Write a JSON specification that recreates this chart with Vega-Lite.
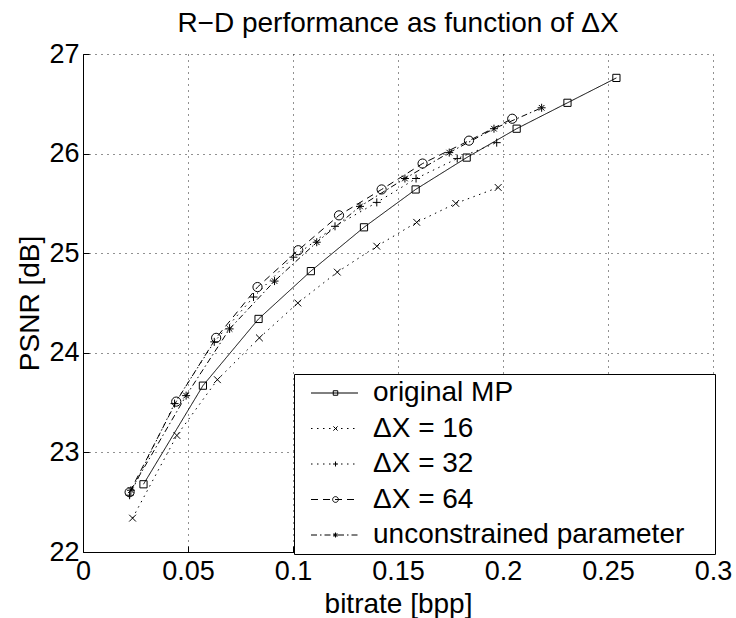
{
  "$schema": "https://vega.github.io/schema/vega-lite/v6.json",
  "width": 630,
  "height": 498,
  "autosize": {"type": "none"},
  "padding": {"left": 83, "top": 54, "right": 23, "bottom": 66},
  "background": "white",
  "title": {
    "text": "R−D performance as function of ΔX",
    "font": "Liberation Sans",
    "fontSize": 28,
    "fontWeight": "normal",
    "color": "black",
    "offset": 2
  },
  "config": {
    "view": {"stroke": null},
    "axis": {
      "labelFont": "Liberation Sans",
      "labelFontSize": 27,
      "labelColor": "black",
      "titleFont": "Liberation Sans",
      "titleFontSize": 28,
      "titleFontWeight": "normal",
      "titleColor": "black",
      "domainColor": "black",
      "domainWidth": 1,
      "tickColor": "black",
      "tickSize": -6,
      "tickWidth": 1,
      "grid": true,
      "gridColor": "#222222",
      "gridDash": [1, 5],
      "gridWidth": 1,
      "labelFlush": false,
      "labelOverlap": false
    }
  },
  "data": {
    "values": [
      {"s": "original MP", "m": "square", "x": 0.0288, "y": 22.68},
      {"s": "original MP", "m": "square", "x": 0.0571, "y": 23.67},
      {"s": "original MP", "m": "square", "x": 0.0836, "y": 24.34},
      {"s": "original MP", "m": "square", "x": 0.1085, "y": 24.82},
      {"s": "original MP", "m": "square", "x": 0.1338, "y": 25.26},
      {"s": "original MP", "m": "square", "x": 0.1584, "y": 25.64},
      {"s": "original MP", "m": "square", "x": 0.1827, "y": 25.96},
      {"s": "original MP", "m": "square", "x": 0.2065, "y": 26.25},
      {"s": "original MP", "m": "square", "x": 0.2307, "y": 26.51},
      {"s": "original MP", "m": "square", "x": 0.2540, "y": 26.76},
      {"s": "ΔX = 16", "m": "x", "x": 0.0236, "y": 22.34},
      {"s": "ΔX = 16", "m": "x", "x": 0.0447, "y": 23.17},
      {"s": "ΔX = 16", "m": "x", "x": 0.0640, "y": 23.73},
      {"s": "ΔX = 16", "m": "x", "x": 0.0840, "y": 24.15},
      {"s": "ΔX = 16", "m": "x", "x": 0.1023, "y": 24.50},
      {"s": "ΔX = 16", "m": "x", "x": 0.1211, "y": 24.81},
      {"s": "ΔX = 16", "m": "x", "x": 0.1399, "y": 25.07},
      {"s": "ΔX = 16", "m": "x", "x": 0.1589, "y": 25.31},
      {"s": "ΔX = 16", "m": "x", "x": 0.1775, "y": 25.50},
      {"s": "ΔX = 16", "m": "x", "x": 0.1977, "y": 25.66},
      {"s": "ΔX = 32", "m": "plus", "x": 0.0222, "y": 22.57},
      {"s": "ΔX = 32", "m": "plus", "x": 0.0436, "y": 23.49},
      {"s": "ΔX = 32", "m": "plus", "x": 0.0625, "y": 24.11},
      {"s": "ΔX = 32", "m": "plus", "x": 0.0812, "y": 24.56},
      {"s": "ΔX = 32", "m": "plus", "x": 0.1002, "y": 24.96},
      {"s": "ΔX = 32", "m": "plus", "x": 0.1200, "y": 25.27},
      {"s": "ΔX = 32", "m": "plus", "x": 0.1399, "y": 25.51},
      {"s": "ΔX = 32", "m": "plus", "x": 0.1586, "y": 25.75},
      {"s": "ΔX = 32", "m": "plus", "x": 0.1782, "y": 25.95},
      {"s": "ΔX = 32", "m": "plus", "x": 0.1970, "y": 26.11},
      {"s": "ΔX = 64", "m": "circle", "x": 0.0222, "y": 22.60},
      {"s": "ΔX = 64", "m": "circle", "x": 0.0444, "y": 23.51},
      {"s": "ΔX = 64", "m": "circle", "x": 0.0634, "y": 24.15},
      {"s": "ΔX = 64", "m": "circle", "x": 0.0831, "y": 24.66},
      {"s": "ΔX = 64", "m": "circle", "x": 0.1025, "y": 25.03},
      {"s": "ΔX = 64", "m": "circle", "x": 0.1219, "y": 25.38},
      {"s": "ΔX = 64", "m": "circle", "x": 0.1422, "y": 25.64},
      {"s": "ΔX = 64", "m": "circle", "x": 0.1617, "y": 25.90},
      {"s": "ΔX = 64", "m": "circle", "x": 0.1838, "y": 26.13},
      {"s": "ΔX = 64", "m": "circle", "x": 0.2044, "y": 26.35},
      {"s": "unconstrained parameter", "m": "star", "x": 0.0228, "y": 22.62},
      {"s": "unconstrained parameter", "m": "star", "x": 0.0491, "y": 23.57},
      {"s": "unconstrained parameter", "m": "star", "x": 0.0698, "y": 24.24},
      {"s": "unconstrained parameter", "m": "star", "x": 0.0912, "y": 24.72},
      {"s": "unconstrained parameter", "m": "star", "x": 0.1113, "y": 25.11},
      {"s": "unconstrained parameter", "m": "star", "x": 0.1319, "y": 25.47},
      {"s": "unconstrained parameter", "m": "star", "x": 0.1533, "y": 25.75},
      {"s": "unconstrained parameter", "m": "star", "x": 0.1744, "y": 26.01},
      {"s": "unconstrained parameter", "m": "star", "x": 0.1957, "y": 26.25},
      {"s": "unconstrained parameter", "m": "star", "x": 0.2184, "y": 26.46}
    ]
  },
  "encoding": {
    "x": {
      "field": "x",
      "type": "quantitative",
      "scale": {"domain": [0, 0.3], "nice": false, "zero": false},
      "axis": {
        "title": "bitrate [bpp]",
        "values": [0, 0.05, 0.1, 0.15, 0.2, 0.25, 0.3],
        "format": "~g",
        "labelPadding": 12,
        "titlePadding": 6
      }
    },
    "y": {
      "field": "y",
      "type": "quantitative",
      "scale": {"domain": [22, 27], "nice": false, "zero": false},
      "axis": {
        "title": "PSNR [dB]",
        "values": [22, 23, 24, 25, 26, 27],
        "format": "d",
        "labelPadding": 10,
        "titlePadding": 4
      }
    }
  },
  "layer": [
    {
      "mark": {"type": "line", "color": "black", "strokeWidth": 1},
      "encoding": {
        "strokeDash": {
          "field": "s",
          "type": "nominal",
          "scale": {
            "domain": ["original MP", "ΔX = 16", "ΔX = 32", "ΔX = 64", "unconstrained parameter"],
            "range": [[1, 0], [1.5, 4.5], [1.5, 4.5], [7, 5], [6, 3, 1.5, 3]]
          },
          "legend": {
            "orient": "none",
            "legendX": 211,
            "legendY": 320,
            "title": null,
            "symbolType": "M-4,0H4",
            "symbolSize": 138,
            "symbolStrokeWidth": 1,
            "symbolStrokeColor": "black",
            "labelFont": "Liberation Sans",
            "labelFontSize": 28,
            "labelColor": "black",
            "labelLimit": 0,
            "padding": 5,
            "rowPadding": 7.5,
            "symbolOffset": 21.5,
            "labelOffset": 24.5,
            "zindex": 2
          }
        }
      }
    },
    {
      "mark": {"type": "point", "filled": false, "color": "black", "strokeWidth": 1, "size": 64, "opacity": 1},
      "encoding": {
        "shape": {
          "field": "m",
          "type": "nominal",
          "scale": {
            "domain": ["square", "x", "plus", "circle", "star"],
            "range": [
              "M-0.9,-0.9H0.9V0.9H-0.9Z",
              "M-0.85,-0.85L0.85,0.85M-0.85,0.85L0.85,-0.85",
              "M-1,0H1M0,-1V1",
              "M1.15,0A1.15,1.15,0,1,1,-1.15,0A1.15,1.15,0,1,1,1.15,0Z",
              "M-1,0H1M0,-1V1M-0.7,-0.7L0.7,0.7M-0.7,0.7L0.7,-0.7"
            ]
          },
          "legend": {
            "orient": "none",
            "legendX": 211,
            "legendY": 320,
            "title": null,
            "symbolSize": 25,
            "symbolStrokeWidth": 1,
            "symbolStrokeColor": "black",
            "symbolFillColor": "transparent",
            "labelFont": "Liberation Sans",
            "labelFontSize": 28,
            "labelExpr": "''",
            "labelLimit": 0,
            "padding": 5,
            "rowPadding": 7.5,
            "symbolOffset": 22.5,
            "labelOffset": 360,
            "strokeColor": "black",
            "fillColor": "white",
            "zindex": 1
          }
        }
      }
    }
  ]
}
